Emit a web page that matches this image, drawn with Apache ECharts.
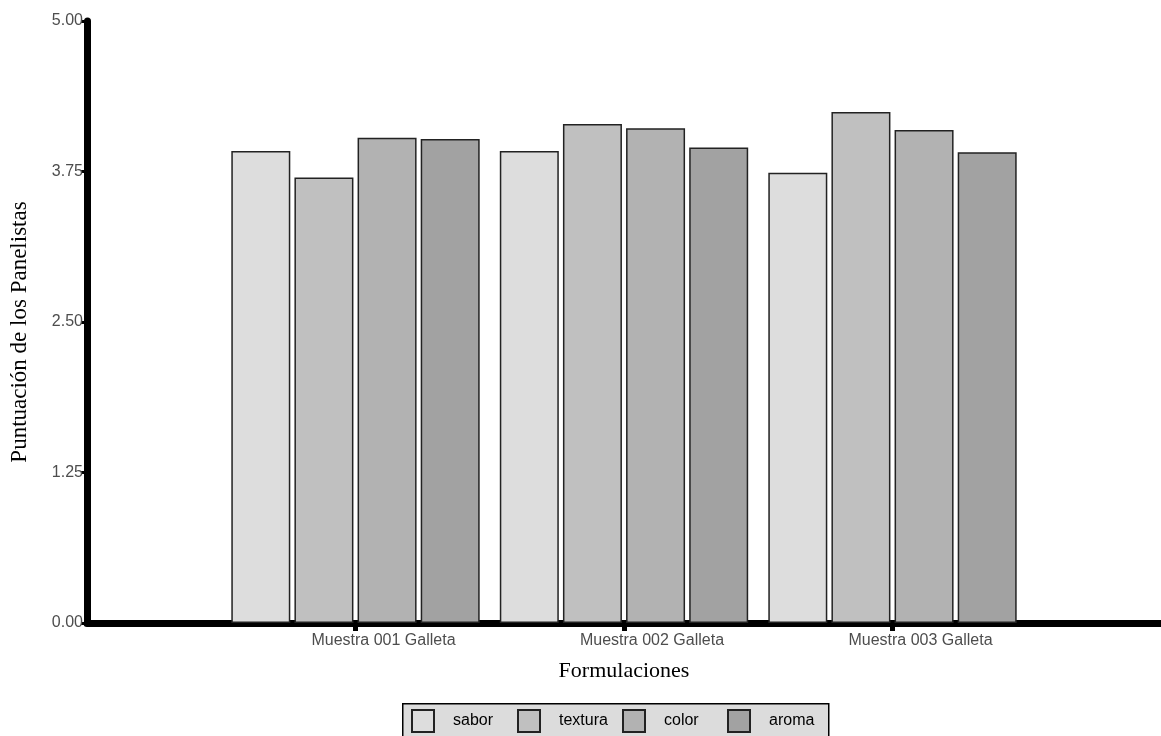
<!DOCTYPE html>
<html>
<head>
<meta charset="utf-8">
<script src="https://cdn.jsdelivr.net/npm/echarts@6/dist/echarts.min.js"></script>
<style>html,body{margin:0;padding:0;background:#fff}#c{width:1161px;height:736px}</style>
</head>
<body>
<div id="c"></div>
<script>
var categories = ["Muestra 001 Galleta", "Muestra 002 Galleta", "Muestra 003 Galleta"];
var seriesNames = ["sabor", "textura", "color", "aroma"];
var sabor = [3.92, 3.92, 3.74];
var textura = [3.70, 4.145, 4.245];
var color = [4.03, 4.11, 4.095];
var aroma = [4.02, 3.95, 3.91];
var yTicks = [0, 1.25, 2.5, 3.75, 5];

var fills = ["#DDDDDD", "#C0C0C0", "#B2B2B2", "#A2A2A2"];
var values = [sabor, textura, color, aroma];
var axisCats = [""].concat(categories).concat([""]);
var legendLefts = [411, 517, 622, 727];

var chart = echarts.init(document.getElementById('c'));
var series = seriesNames.map(function (n, i) {
  return {
    name: n,
    type: 'bar',
    barWidth: 59,
    barGap: '7%',
    data: [null].concat(values[i]).concat([null]),
    itemStyle: { color: fills[i], borderColor: '#222', borderWidth: 1.5 }
  };
});

var legends = seriesNames.map(function (n, i) {
  return {
    left: legendLefts[i],
    top: 709,
    padding: 0,
    data: [n],
    icon: 'rect',
    itemWidth: 22,
    itemHeight: 22,
    textStyle: { fontFamily: 'Liberation Sans', fontSize: 16, color: '#000', padding: [0, 0, 0, 14] }
  };
});

chart.setOption({
  animation: false,
  graphic: [{
    type: 'rect', left: 402, top: 703, z: -1,
    shape: { width: 426, height: 36 },
    style: { fill: '#DCDCDC', stroke: '#000', lineWidth: 1.5 }
  }],
  grid: { left: 87, right: 0, top: 21, bottom: 113, outerBoundsMode: 'none' },
  xAxis: {
    type: 'category',
    data: axisCats,
    boundaryGap: false,
    axisLine: { lineStyle: { color: '#000', width: 7, cap: 'round' } },
    axisTick: { length: 8, lineStyle: { color: '#000', width: 5 }, interval: function (idx, val) { return val !== ''; } },
    axisLabel: { interval: 0, margin: 10, fontFamily: 'Liberation Sans', fontSize: 16, color: '#4D4D4D', padding: [0, 0, 0, 56] },
    name: 'Formulaciones',
    nameLocation: 'middle',
    nameGap: 37,
    nameTextStyle: { fontFamily: 'Liberation Serif', fontSize: 22, color: '#000' },
    splitLine: { show: false }
  },
  yAxis: {
    type: 'value',
    min: yTicks[0],
    max: yTicks[yTicks.length - 1],
    interval: yTicks[1] - yTicks[0],
    axisLine: { show: true, lineStyle: { color: '#000', width: 7, cap: 'round' } },
    axisTick: { show: true, length: 6, lineStyle: { color: '#000', width: 3 } },
    axisLabel: { margin: 4, fontFamily: 'Liberation Sans', fontSize: 16, color: '#4D4D4D', formatter: function (v) { return v.toFixed(2); } },
    splitLine: { show: false },
    name: 'Puntuación de los Panelistas',
    nameLocation: 'middle',
    nameGap: 56,
    nameTextStyle: { fontFamily: 'Liberation Serif', fontSize: 23, color: '#000', padding: [0, 20, 0, 0] }
  },
  legend: legends,
  series: series
});
</script>
</body>
</html>
